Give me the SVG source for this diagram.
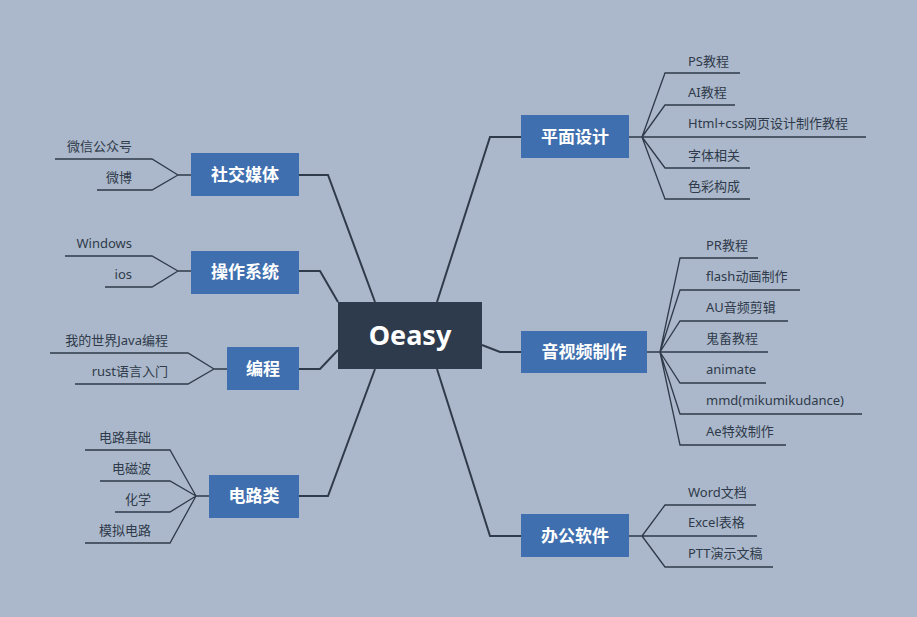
<svg xmlns="http://www.w3.org/2000/svg" width="917" height="617" viewBox="0 0 917 617">
<style>
.b{fill:#3f6fae}
.bt{fill:#fff;font:bold 17px "Noto Sans CJK SC","Noto Sans",sans-serif;text-anchor:middle}
.l{font:13px "Noto Sans","Noto Sans CJK SC",sans-serif;fill:#2f3a4a}
.r{text-anchor:end}
#c path{fill:none;stroke:#2f3a4a;stroke-width:1.3}
#c .m{stroke-width:2}
</style>
<rect width="917" height="617" fill="#abb8cb"/>
<g id="c">
<path class="m" d="M437 302L490 137H521M482 345L500 352H521M437 369L490 536H521M375 302L328 175H299M338 302L320 271H299M338 350L320 369H299M375 369L328 496H299"/>
<path d="M629 137H642M642 137L665 73H740M642 137L665 105H735M642 137H866M642 137L665 168H750M642 137L665 199H750"/>
<path d="M647 352H660M660 352L680 258H758M660 352L680 290H800M660 352L680 321H788M660 352H768M660 352L680 383H766M660 352L680 414H862M660 352L680 445H786"/>
<path d="M629 536H642M642 536L665 505H756M642 536H757M642 536L665 567H773"/>
<path d="M191 175H178M178 175L152 159H55M178 175L152 190H97"/>
<path d="M191 271H178M178 271L152 256H65M178 271L152 287H105"/>
<path d="M227 369H214M214 369L188 353H50M214 369L188 384H75"/>
<path d="M209 496H196M196 496L170 450H85M196 496L170 481H100M196 496L170 512H115M196 496L170 543H85"/>
</g>
<g id="center"><rect x="338" y="302" width="144" height="67" fill="#2e3b4c"/><text x="410" y="345" fill="#fff" font-family="Noto Sans,sans-serif" font-weight="bold" font-size="27" text-anchor="middle">Oeasy</text></g>
<g id="n1"><rect class="b" x="521" y="115" width="108" height="43"/><text class="bt" x="575" y="143">平面设计</text></g>
<g id="n2"><rect class="b" x="521" y="331" width="126" height="42"/><text class="bt" x="584" y="358">音视频制作</text></g>
<g id="n3"><rect class="b" x="521" y="514" width="108" height="43"/><text class="bt" x="575" y="542">办公软件</text></g>
<g id="n4"><rect class="b" x="191" y="153" width="108" height="43"/><text class="bt" x="245" y="181">社交媒体</text></g>
<g id="n5"><rect class="b" x="191" y="251" width="108" height="43"/><text class="bt" x="245" y="278">操作系统</text></g>
<g id="n6"><rect class="b" x="227" y="347" width="72" height="43"/><text class="bt" x="263" y="375">编程</text></g>
<g id="n7"><rect class="b" x="209" y="475" width="90" height="43"/><text class="bt" x="254" y="502">电路类</text></g>
<g id="leaves">
<text class="l" x="688" y="66">PS教程</text>
<text class="l" x="688" y="97">AI教程</text>
<text class="l" x="688" y="128">Html+css网页设计制作教程</text>
<text class="l" x="688" y="160">字体相关</text>
<text class="l" x="688" y="191">色彩构成</text>
<text class="l" x="706" y="250">PR教程</text>
<text class="l" x="706" y="281">flash动画制作</text>
<text class="l" x="706" y="312">AU音频剪辑</text>
<text class="l" x="706" y="343">鬼畜教程</text>
<text class="l" x="706" y="374">animate</text>
<text class="l" x="706" y="405">mmd(mikumikudance)</text>
<text class="l" x="706" y="436">Ae特效制作</text>
<text class="l" x="688" y="497">Word文档</text>
<text class="l" x="688" y="527">Excel表格</text>
<text class="l" x="688" y="558">PTT演示文稿</text>
<text class="l r" x="132" y="151">微信公众号</text>
<text class="l r" x="132" y="182">微博</text>
<text class="l r" x="132" y="248">Windows</text>
<text class="l r" x="132" y="279">ios</text>
<text class="l r" x="168" y="345">我的世界Java编程</text>
<text class="l r" x="168" y="376">rust语言入门</text>
<text class="l r" x="151" y="442">电路基础</text>
<text class="l r" x="151" y="473">电磁波</text>
<text class="l r" x="151" y="504">化学</text>
<text class="l r" x="151" y="535">模拟电路</text>
</g>
</svg>
